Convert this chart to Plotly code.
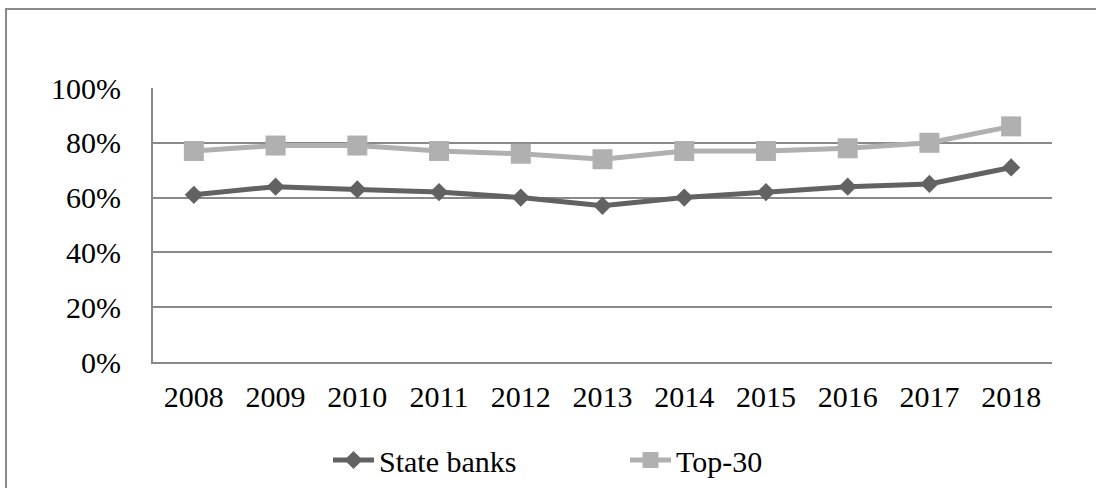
import plotly.graph_objects as go

years = ["2008", "2009", "2010", "2011", "2012", "2013", "2014", "2015", "2016", "2017", "2018"]
state_banks = [0.61, 0.64, 0.63, 0.62, 0.60, 0.57, 0.60, 0.62, 0.64, 0.65, 0.71]
top_30 = [0.77, 0.79, 0.79, 0.77, 0.76, 0.74, 0.77, 0.77, 0.78, 0.80, 0.86]

FONT = "Liberation Serif, Times New Roman, serif"
W, H = 1096, 488
ML, MR, MT, MB = 153, 44, 88, 126
PW, PH = W - ML - MR, H - MT - MB

fig = go.Figure()
fig.add_trace(go.Scatter(
    x=years, y=state_banks, name="State banks", mode="lines+markers",
    line=dict(color="#626262", width=5),
    marker=dict(symbol="diamond", size=14, color="#626262"),
))
fig.add_trace(go.Scatter(
    x=years, y=top_30, name="Top-30", mode="lines+markers",
    line=dict(color="#b0b0b0", width=5),
    marker=dict(symbol="square", size=20, color="#b0b0b0"),
))

# outer chart frame (top and left edges visible)
fig.add_shape(
    type="rect", xref="paper", yref="paper",
    x0=(6 - ML) / PW, x1=2.0,
    y0=-1.0, y1=(H - 9 - MB) / PH,
    line=dict(color="#8a8a8a", width=2), fillcolor="rgba(0,0,0,0)", layer="below",
)

fig.update_layout(
    width=W, height=H,
    margin=dict(l=ML, r=MR, t=MT, b=MB, autoexpand=False),
    paper_bgcolor="white", plot_bgcolor="white",
    font=dict(family=FONT, size=30, color="black"),
    showlegend=True,
    legend=dict(
        orientation="h", xref="container", yref="container",
        x=328 / W, xanchor="left", y=(H - 460) / H, yanchor="middle",
        font=dict(family=FONT, size=30, color="black"),
        itemwidth=41, entrywidth=241, entrywidthmode="pixels", bgcolor="rgba(0,0,0,0)",
    ),
    xaxis=dict(
        type="category", showgrid=False, showline=True, linecolor="#898989", linewidth=2,
        ticks="", ticklabelstandoff=7, range=[-0.5, 10.5], automargin=False,
    ),
    yaxis=dict(
        range=[0, 1.0], dtick=0.2, tickformat=".0%", showgrid=True, gridcolor="#898989",
        gridwidth=2, showline=True, linecolor="#898989", linewidth=2, zeroline=False,
        ticks="", ticklabelstandoff=24, automargin=False,
    ),
)

fig.write_html("out.html")
